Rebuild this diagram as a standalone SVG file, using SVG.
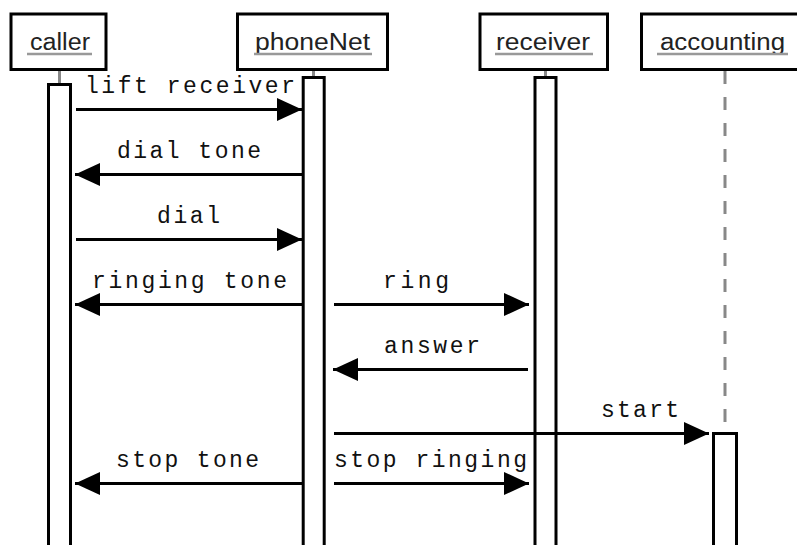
<svg xmlns="http://www.w3.org/2000/svg" width="797" height="545" viewBox="0 0 797 545">
<defs>
<style>
.box{fill:#fff;stroke:#000;stroke-width:3}
.act{fill:#fff;stroke:#000;stroke-width:3}
.title{font-family:"Liberation Sans",Arial,sans-serif;font-size:23px;fill:#222}
.ul{stroke:#999;stroke-width:2.5}
.tick{stroke:#888;stroke-width:3}
.life{stroke:#888;stroke-width:3;stroke-dasharray:13 13}
.msg{stroke:#000;stroke-width:3;fill:none}
.lbl{font-family:"Liberation Mono","Courier New",monospace;font-size:23px;fill:#111}
</style>
<marker id="ah" markerUnits="userSpaceOnUse" markerWidth="26" markerHeight="24" refX="25" refY="12" orient="auto">
<path d="M0,0.5 L25,12 L0,23.5 Z" fill="#000"/>
</marker>
</defs>
<rect width="797" height="545" fill="#fff"/>

<g id="caller">
<rect class="box" x="11" y="14" width="95" height="55.5"/>
<text class="title" x="30" y="50" textLength="60" lengthAdjust="spacingAndGlyphs">caller</text>
<line class="ul" x1="27" y1="54" x2="92" y2="54"/>
<line class="tick" x1="59.5" y1="71" x2="59.5" y2="83"/>
<rect class="act" x="48.5" y="84.5" width="22" height="480"/>
</g>

<g id="phoneNet">
<rect class="box" x="237.5" y="14" width="150" height="55.5"/>
<text class="title" x="255" y="50" textLength="115" lengthAdjust="spacingAndGlyphs">phoneNet</text>
<line class="ul" x1="254" y1="54" x2="372" y2="54"/>
<line class="tick" x1="313.5" y1="71" x2="313.5" y2="76"/>
<rect class="act" x="303.2" y="77.5" width="21" height="480"/>
</g>

<g id="receiver">
<rect class="box" x="480" y="14" width="127.5" height="55.5"/>
<text class="title" x="496" y="50" textLength="94" lengthAdjust="spacingAndGlyphs">receiver</text>
<line class="ul" x1="495" y1="54" x2="593" y2="54"/>
<line class="tick" x1="545.5" y1="71" x2="545.5" y2="76"/>
<rect class="act" x="535" y="77.5" width="21" height="480"/>
</g>

<g id="accounting">
<rect class="box" x="641.5" y="14" width="170" height="55.5"/>
<text class="title" x="660" y="50" textLength="125" lengthAdjust="spacingAndGlyphs">accounting</text>
<line class="ul" x1="657" y1="54" x2="788" y2="54"/>
<line class="life" x1="725" y1="71" x2="725" y2="425"/>
<rect class="act" x="713.5" y="433.5" width="23" height="130"/>
</g>

<g id="connectors">
<line class="msg" x1="76" y1="109.5" x2="302" y2="109.5" marker-end="url(#ah)"/>
<text class="lbl" x="85" y="93" textLength="210" lengthAdjust="spacing">lift receiver</text>

<line class="msg" x1="302" y1="174.5" x2="75" y2="174.5" marker-end="url(#ah)"/>
<text class="lbl" x="117" y="158" textLength="144" lengthAdjust="spacing">dial tone</text>

<line class="msg" x1="76" y1="239.5" x2="302" y2="239.5" marker-end="url(#ah)"/>
<text class="lbl" x="157" y="223" textLength="63" lengthAdjust="spacing">dial</text>

<line class="msg" x1="302" y1="304.5" x2="75" y2="304.5" marker-end="url(#ah)"/>
<text class="lbl" x="92" y="288" textLength="195" lengthAdjust="spacing">ringing tone</text>

<line class="msg" x1="334" y1="304.5" x2="529" y2="304.5" marker-end="url(#ah)"/>
<text class="lbl" x="383" y="288" textLength="66" lengthAdjust="spacing">ring</text>

<line class="msg" x1="528" y1="369.5" x2="333" y2="369.5" marker-end="url(#ah)"/>
<text class="lbl" x="384" y="353" textLength="96" lengthAdjust="spacing">answer</text>

<line class="msg" x1="334" y1="433.5" x2="709" y2="433.5" marker-end="url(#ah)"/>
<text class="lbl" x="601" y="417" textLength="78" lengthAdjust="spacing">start</text>

<line class="msg" x1="302" y1="483.5" x2="75" y2="483.5" marker-end="url(#ah)"/>
<text class="lbl" x="116" y="467" textLength="143" lengthAdjust="spacing">stop tone</text>

<line class="msg" x1="334" y1="483.5" x2="529" y2="483.5" marker-end="url(#ah)"/>
<text class="lbl" x="334" y="467" textLength="193" lengthAdjust="spacing">stop ringing</text>
</g>
</svg>
